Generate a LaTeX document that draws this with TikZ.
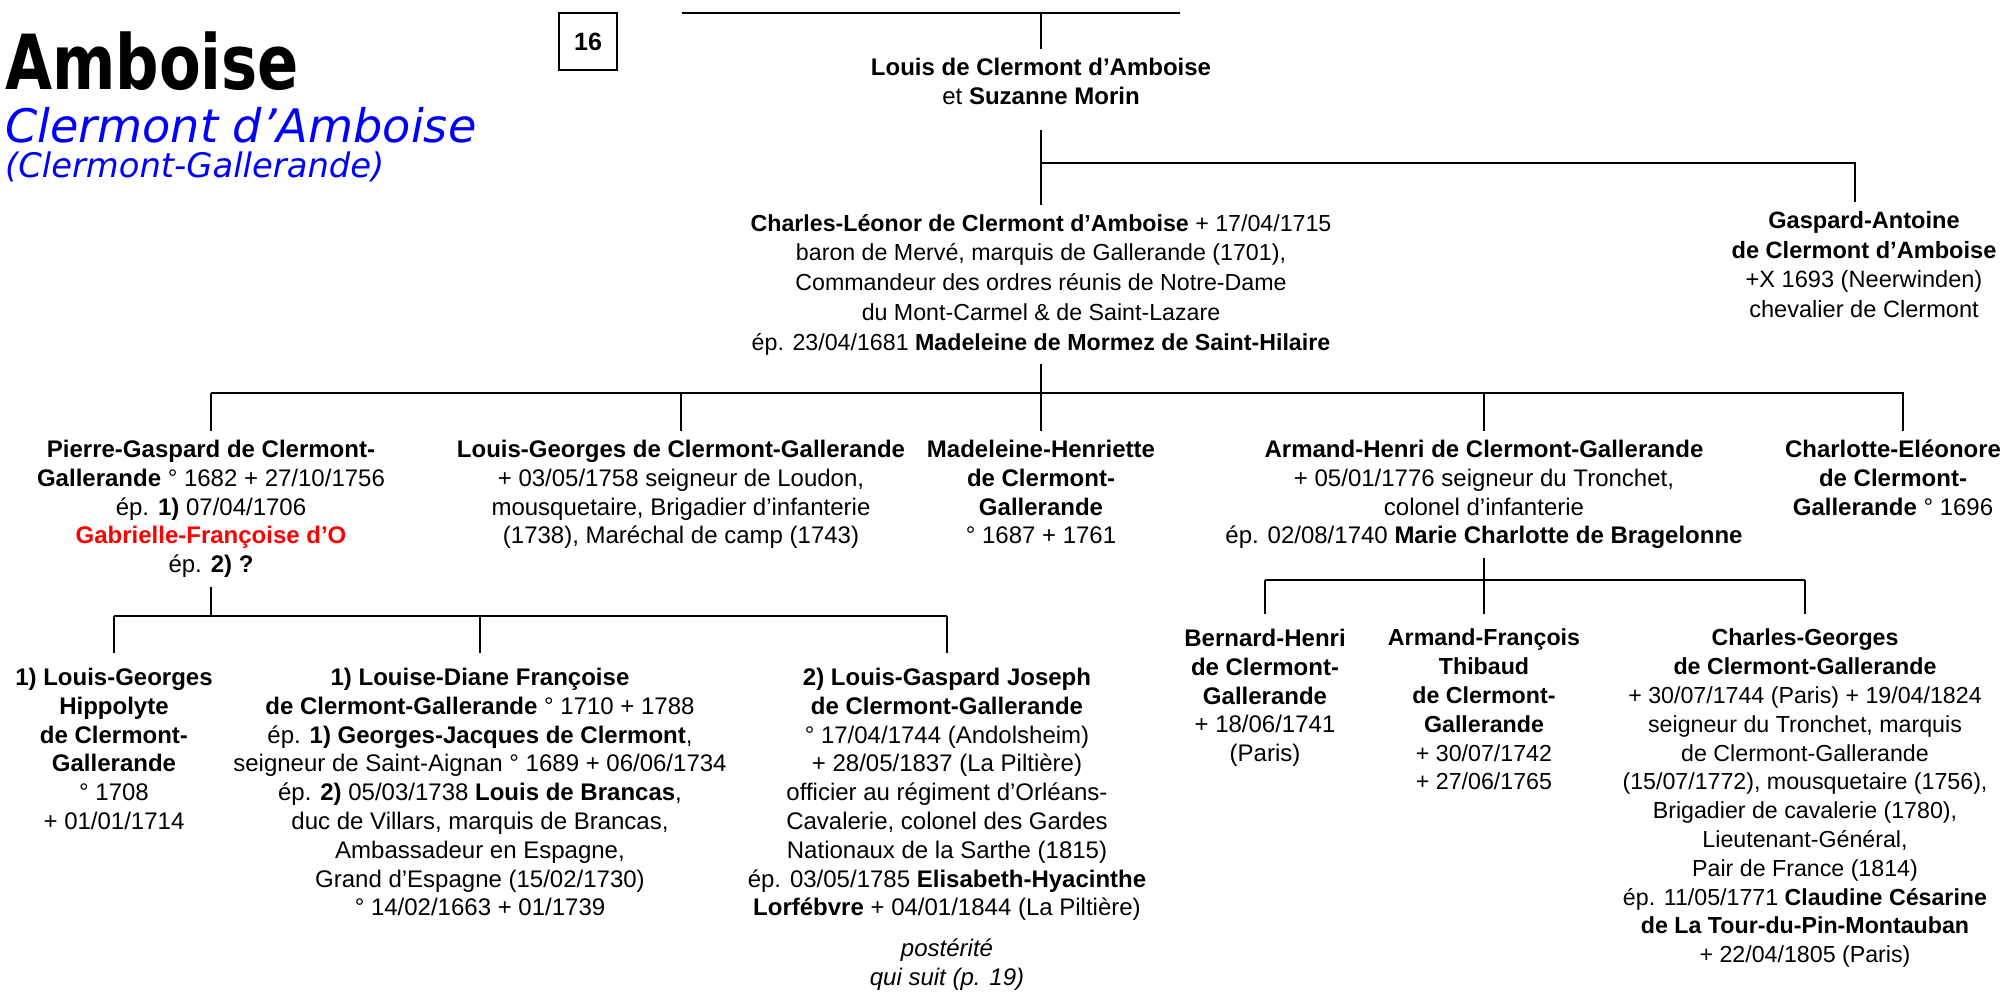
\documentclass[tikz,border=0pt]{standalone}
\usepackage{fontspec}
\setmainfont{Liberation Sans}
\newfontfamily\titlesans{DejaVu Sans}
\newfontfamily\titlebold{DejaVu Sans}[FakeStretch=0.8]
\usetikzlibrary{positioning}
\definecolor{titleblue}{RGB}{0,0,255}
\definecolor{namered}{RGB}{255,0,0}

\begin{document}
\begin{tikzpicture}[x=0.5pt, y=-0.5pt, line width=1.1pt,
    person/.style={anchor=north, align=center, inner xsep=0pt, inner ysep=4pt,
      font=\fontsize{12}{14.4}\selectfont},
    smallperson/.style={person, font=\fontsize{11.6}{14.4}\selectfont},
    kid/.style={person, inner ysep=7pt}]
    \useasboundingbox (0,0) rectangle (2007,995);

    % titles
    \node[anchor=west, inner sep=0, font=\titlebold\bfseries\fontsize{38}{42}\selectfont] (family) at (4,61) {Amboise};
    \node[anchor=west, inner sep=0, text=titleblue, font=\titlesans\itshape\fontsize{23.1}{27}\selectfont] (branch) at (4,125) {Clermont d’Amboise};
    \node[anchor=west, inner sep=0, text=titleblue, font=\titlesans\itshape\fontsize{16.9}{20}\selectfont] (subbranch) at (4,167) {(Clermont-Gallerande)};
    \node[draw, line width=0.8pt, minimum width=29pt, minimum height=28.5pt, inner sep=0,
      font=\bfseries\fontsize{12.5}{15}\selectfont] (page) at (588,41.5) {16};

    % generation 1
    \coordinate (topl) at (682,13);
    \coordinate (topr) at (1180,13);
    \node[person] (louis) at (1041,49) {\textbf{Louis de Clermont d’Amboise}\\ et \textbf{Suzanne Morin}};

    % generation 2
    \node[person, font=\fontsize{11.6}{14.9}\selectfont] (charles) at (1041,205) {\textbf{Charles-Léonor de Clermont d’Amboise} + 17/04/1715\\
      baron de Mervé, marquis de Gallerande (1701),\\
      Commandeur des ordres réunis de Notre-Dame\\
      du Mont-Carmel \& de Saint-Lazare\\
      ép. 23/04/1681 \textbf{Madeleine de Mormez de Saint-Hilaire}};
    \node[person, font=\fontsize{11.8}{14.9}\selectfont] (gaspard) at (1864,202) {\textbf{Gaspard-Antoine}\\
      \textbf{de Clermont d’Amboise}\\
      +X 1693 (Neerwinden)\\
      chevalier de Clermont};

    % generation 3
    \node[person] (pierre) at (211,431) {\textbf{Pierre-Gaspard de Clermont-}\\
      \textbf{Gallerande} ° 1682 + 27/10/1756\\
      ép. \textbf{1)} 07/04/1706\\
      \textcolor{namered}{\textbf{Gabrielle-Françoise d’O}}\\
      ép. \textbf{2) ?}};
    \node[person] (lgeorges) at (681,431) {\textbf{Louis-Georges de Clermont-Gallerande}\\
      + 03/05/1758 seigneur de Loudon,\\
      mousquetaire, Brigadier d’infanterie\\
      (1738), Maréchal de camp (1743)};
    \node[person] (madeleine) at (1041,431) {\textbf{Madeleine-Henriette}\\
      \textbf{de Clermont-}\\
      \textbf{Gallerande}\\
      ° 1687 + 1761};
    \node[person] (armand) at (1484,431) {\textbf{Armand-Henri de Clermont-Gallerande}\\
      + 05/01/1776 seigneur du Tronchet,\\
      colonel d’infanterie\\
      ép. 02/08/1740 \textbf{Marie Charlotte de Bragelonne}};
    \node[person] (charlotte) at (1893,431) {\textbf{Charlotte-Eléonore}\\
      \textbf{de Clermont-}\\
      \textbf{Gallerande} ° 1696};

    % generation 4, Pierre-Gaspard
    \node[kid] (hippolyte) at (114,653) {\textbf{1) Louis-Georges}\\
      \textbf{Hippolyte}\\
      \textbf{de Clermont-}\\
      \textbf{Gallerande}\\
      ° 1708\\
      + 01/01/1714};
    \node[kid] (diane) at (480,653) {\textbf{1) Louise-Diane Françoise}\\
      \textbf{de Clermont-Gallerande} ° 1710 + 1788\\
      ép. \textbf{1) Georges-Jacques de Clermont},\\
      seigneur de Saint-Aignan ° 1689 + 06/06/1734\\
      ép. \textbf{2)} 05/03/1738 \textbf{Louis de Brancas},\\
      duc de Villars, marquis de Brancas,\\
      Ambassadeur en Espagne,\\
      Grand d’Espagne (15/02/1730)\\
      ° 14/02/1663 + 01/1739};
    \node[kid] (lgaspard) at (947,653) {\textbf{2) Louis-Gaspard Joseph}\\
      \textbf{de Clermont-Gallerande}\\
      ° 17/04/1744 (Andolsheim)\\
      + 28/05/1837 (La Piltière)\\
      officier au régiment d’Orléans-\\
      Cavalerie, colonel des Gardes\\
      Nationaux de la Sarthe (1815)\\
      ép. 03/05/1785 \textbf{Elisabeth-Hyacinthe}\\
      \textbf{Lorfébvre} + 04/01/1844 (La Piltière)};
    \node[person, below=0pt of lgaspard, inner ysep=1pt, font=\itshape\fontsize{12}{14.6}\selectfont] (suite) {postérité\\ qui suit (p. 19)};

    % generation 4, Armand-Henri
    \node[kid] (bernard) at (1265,614) {\textbf{Bernard-Henri}\\
      \textbf{de Clermont-}\\
      \textbf{Gallerande}\\
      + 18/06/1741\\
      (Paris)};
    \node[kid, smallperson, inner ysep=7pt] (afrancois) at (1484,614) {\textbf{Armand-François}\\
      \textbf{Thibaud}\\
      \textbf{de Clermont-}\\
      \textbf{Gallerande}\\
      + 30/07/1742\\
      + 27/06/1765};
    \node[kid, smallperson, inner ysep=7pt] (cgeorges) at (1805,614) {\textbf{Charles-Georges}\\
      \textbf{de Clermont-Gallerande}\\
      + 30/07/1744 (Paris) + 19/04/1824\\
      seigneur du Tronchet, marquis\\
      de Clermont-Gallerande\\
      (15/07/1772), mousquetaire (1756),\\
      Brigadier de cavalerie (1780),\\
      Lieutenant-Général,\\
      Pair de France (1814)\\
      ép. 11/05/1771 \textbf{Claudine Césarine}\\
      \textbf{de La Tour-du-Pin-Montauban}\\
      + 22/04/1805 (Paris)};

    % lines
    \coordinate (bar1) at (0,163);
    \coordinate (bar2) at (0,393);
    \coordinate (bar3) at (0,616);
    \coordinate (bar4) at (0,580);
    \draw (topl) -- (topr);
    \draw (louis.north |- topl) -- (louis.north);
    \draw[shorten <=8pt] (louis.south) -- (charles.north);
    \draw (louis.south |- bar1) -- ([xshift=-4.5pt]gaspard.north |- bar1) -- ([xshift=-4.5pt]gaspard.north);
    \draw (charles.south) -- (charles.south |- bar2);
    \draw (pierre.north |- bar2) -- ([xshift=5pt]charlotte.north |- bar2) -- ([xshift=5pt]charlotte.north);
    \foreach \kid in {pierre, lgeorges, madeleine, armand}
      \draw (\kid.north |- bar2) -- (\kid.north);
    \draw (pierre.south) -- (pierre.south |- bar3);
    \draw (hippolyte.north |- bar3) -- (lgaspard.north |- bar3);
    \foreach \kid in {hippolyte, diane, lgaspard}
      \draw (\kid.north |- bar3) -- (\kid.north);
    \draw (armand.south) -- (afrancois.north);
    \draw (bernard.north |- bar4) -- (cgeorges.north |- bar4);
    \foreach \kid in {bernard, cgeorges}
      \draw (\kid.north |- bar4) -- (\kid.north);
\end{tikzpicture}
\end{document}
